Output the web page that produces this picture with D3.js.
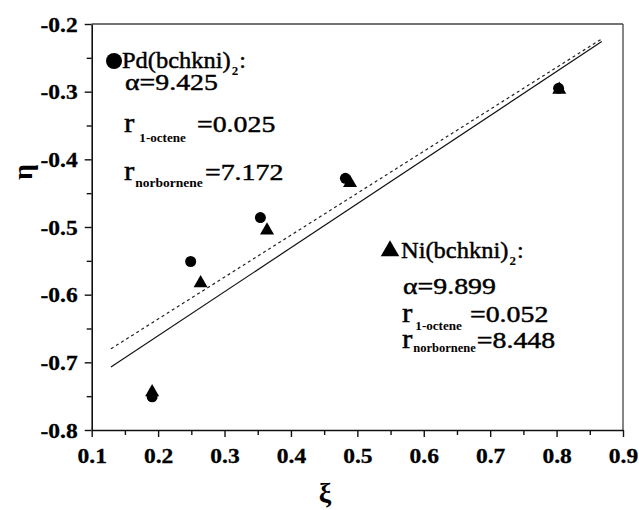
<!DOCTYPE html>
<html>
<head>
<meta charset="utf-8">
<script src="https://cdn.jsdelivr.net/npm/d3@7"></script>
<style>
  html, body { margin: 0; padding: 0; background: #fff; }
  svg { display: block; }
  svg text { font-family: "Liberation Serif", "Times New Roman", Tinos, "DejaVu Serif", serif; }
</style>
</head>
<body>
<svg id="chart" width="639" height="510"></svg>
<script>
// ---- data ----
const xiPd  = [0.191, 0.249, 0.354, 0.482, 0.803];
const etaPd = [-0.751, -0.551, -0.486, -0.428, -0.295];
const xiNi  = [0.191, 0.264, 0.364, 0.489, 0.804];
const etaNi = [-0.744, -0.583, -0.505, -0.435, -0.297];
const fitSolidXi  = [0.129, 0.868];
const fitSolidEta = [-0.707, -0.226];
const fitDashXi   = [0.129, 0.868];
const fitDashEta  = [-0.680, -0.222];
const xTicks = [0.1, 0.2, 0.3, 0.4, 0.5, 0.6, 0.7, 0.8, 0.9];
const yTicks = [-0.8, -0.7, -0.6, -0.5, -0.4, -0.3, -0.2];
const xMinor = [0.15, 0.25, 0.35, 0.45, 0.55, 0.65, 0.75, 0.85];
const yMinor = [-0.75, -0.65, -0.55, -0.45, -0.35, -0.25];
const pdLabel = ["Pd(bchkni)", "2", ":"];
const niLabel = ["Ni(bchkni)", "2", ":"];
const pdParams = ["α=9.425", "=0.025", "=7.172"];
const niParams = ["α=9.899", "=0.052", "=8.448"];
const subs = ["1-octene", "norbornene"];

const svg = d3.select("#chart");
const L = 91.7, R = 623, T = 24, B = 430;
const x = d3.scaleLinear().domain([0.1, 0.9]).range([L, R]);
const y = d3.scaleLinear().domain([-0.8, -0.2]).range([B, T]);
const SX = 1.12;
const fmt = d => d3.format(".1f")(d).replace("−", "-");

// box top/right
svg.append("line").attr("x1", L).attr("x2", R).attr("y1", T).attr("y2", T)
  .attr("stroke", "#444").attr("stroke-width", 1.3);
svg.append("line").attr("x1", R).attr("x2", R).attr("y1", T).attr("y2", B)
  .attr("stroke", "#444").attr("stroke-width", 1.3);

// minor ticks
const gxm = svg.append("g").attr("transform", `translate(0,${B})`)
  .call(d3.axisBottom(x).tickValues(xMinor).tickSize(5).tickFormat(""));
const gym = svg.append("g").attr("transform", `translate(${L},0)`)
  .call(d3.axisLeft(y).tickValues(yMinor).tickSize(5).tickFormat(""));
[gxm, gym].forEach(g => { g.select(".domain").remove(); g.selectAll("line").attr("stroke", "#111").attr("stroke-width", 1.4); });

// major axes
const gx = svg.append("g").attr("transform", `translate(0,${B})`)
  .call(d3.axisBottom(x).tickValues(xTicks).tickSize(7).tickSizeOuter(0).tickFormat(fmt));
const gy = svg.append("g").attr("transform", `translate(${L},0)`)
  .call(d3.axisLeft(y).tickValues(yTicks).tickSize(7).tickSizeOuter(0).tickFormat(fmt));
[gx, gy].forEach(g => {
  g.attr("font-family", null);
  g.select(".domain").attr("stroke", "#111").attr("stroke-width", 1.6);
  g.selectAll("line").attr("stroke", "#111").attr("stroke-width", 1.4);
  g.selectAll("text").attr("font-weight", "bold")
    .attr("font-size", 21).attr("fill", "#000")
    .attr("stroke", "#000").attr("stroke-width", 0.3);
});
gx.selectAll("text").attr("y", 33).attr("dy", 0).attr("transform", `scale(${SX},1)`);
gy.selectAll("text").attr("x", -14 / SX).attr("dy", 7).attr("transform", `scale(${SX},1)`);

// fit lines
const line = d3.line().x(d => x(d[0])).y(d => y(d[1]));
svg.append("path").datum(d3.zip(fitSolidXi, fitSolidEta)).attr("d", line)
  .attr("fill", "none").attr("stroke", "#111").attr("stroke-width", 1.2);
svg.append("path").datum(d3.zip(fitDashXi, fitDashEta)).attr("d", line)
  .attr("fill", "none").attr("stroke", "#222").attr("stroke-width", 1.2)
  .attr("stroke-dasharray", "3,3");

// markers
svg.append("g").selectAll("circle").data(d3.zip(xiPd, etaPd)).join("circle")
  .attr("cx", d => x(d[0])).attr("cy", d => y(d[1])).attr("r", 5.5).attr("fill", "#000");
const tri = d3.symbol().type(d3.symbolTriangle).size(85);
svg.append("g").selectAll("path").data(d3.zip(xiNi, etaNi)).join("path")
  .attr("d", tri).attr("transform", d => `translate(${x(d[0])},${y(d[1])})`).attr("fill", "#000");

// text helper: returns right end x
function txt(px, py, s, size, opts = {}) {
  const sx = opts.sx || SX;
  const g = svg.append("g").attr("transform", `translate(${px},${py}) scale(${sx},1)`);
  const t = g.append("text").attr("x", 0).attr("y", 0).text(s)
    .attr("font-size", size)
    .attr("font-weight", opts.bold ? "bold" : "normal").attr("fill", "#000")
    .attr("stroke", "#000").attr("stroke-width", opts.sw == null ? 0.45 : opts.sw);
  if (opts.anchor) t.attr("text-anchor", opts.anchor);
  if (opts.rotate) g.attr("transform", `translate(${px},${py}) rotate(${opts.rotate})`);
  return px + t.node().getComputedTextLength() * sx;
}

function legend(mx, my, marker, tx, ty, label, params, rows) {
  if (marker === "circle")
    svg.append("circle").attr("cx", mx).attr("cy", my).attr("r", 8).attr("fill", "#000");
  else
    svg.append("path").attr("d", d3.symbol().type(d3.symbolTriangle).size(150))
      .attr("transform", `translate(${mx},${my})`).attr("fill", "#000");
  let e = txt(tx, ty, label[0], 24, { sx: 1.02 });
  e = txt(e + 1, ty + 7, label[1], 13, { bold: true, sw: 0, sx: 1.0 });
  txt(e + 1, ty, label[2], 24, { sx: 1.0 });
  txt(rows[0].x, rows[0].y, params[0], 24, { sx: 1.16 });
  for (let i = 0; i < 2; i++) {
    const r = rows[i + 1];
    let re = txt(r.x, r.y, "r", 27, { sx: 1.15 });
    let se = txt(re + r.gap, r.y + r.dy, subs[i], 12.5, { bold: true, sw: 0, sx: r.ssx });
    txt(Math.max(r.ex, se + 1), r.y, params[i + 1], 24, { sx: 1.16 });
  }
}

legend(114, 61, "circle", 122, 68, pdLabel, pdParams, [
  { x: 125, y: 90 },
  { x: 124, y: 132, dy: 10, gap: 5, ssx: 1.05, ex: 197 },
  { x: 124, y: 180, dy: 7, gap: 1, ssx: 1.08, ex: 205 }
]);
legend(390, 251, "triangle", 401, 258, niLabel, niParams, [
  { x: 403, y: 294 },
  { x: 402, y: 322, dy: 8, gap: 3, ssx: 1.05, ex: 470 },
  { x: 402, y: 348, dy: 4, gap: 1, ssx: 1.0, ex: 473 }
]);

// axis titles
txt(32, 172, "η", 28, { bold: true, rotate: -90, anchor: "middle", sw: 0 });
txt(325, 502, "ξ", 28, { bold: true, anchor: "middle", sw: 0, sx: 1.0 });
</script>
</body>
</html>
